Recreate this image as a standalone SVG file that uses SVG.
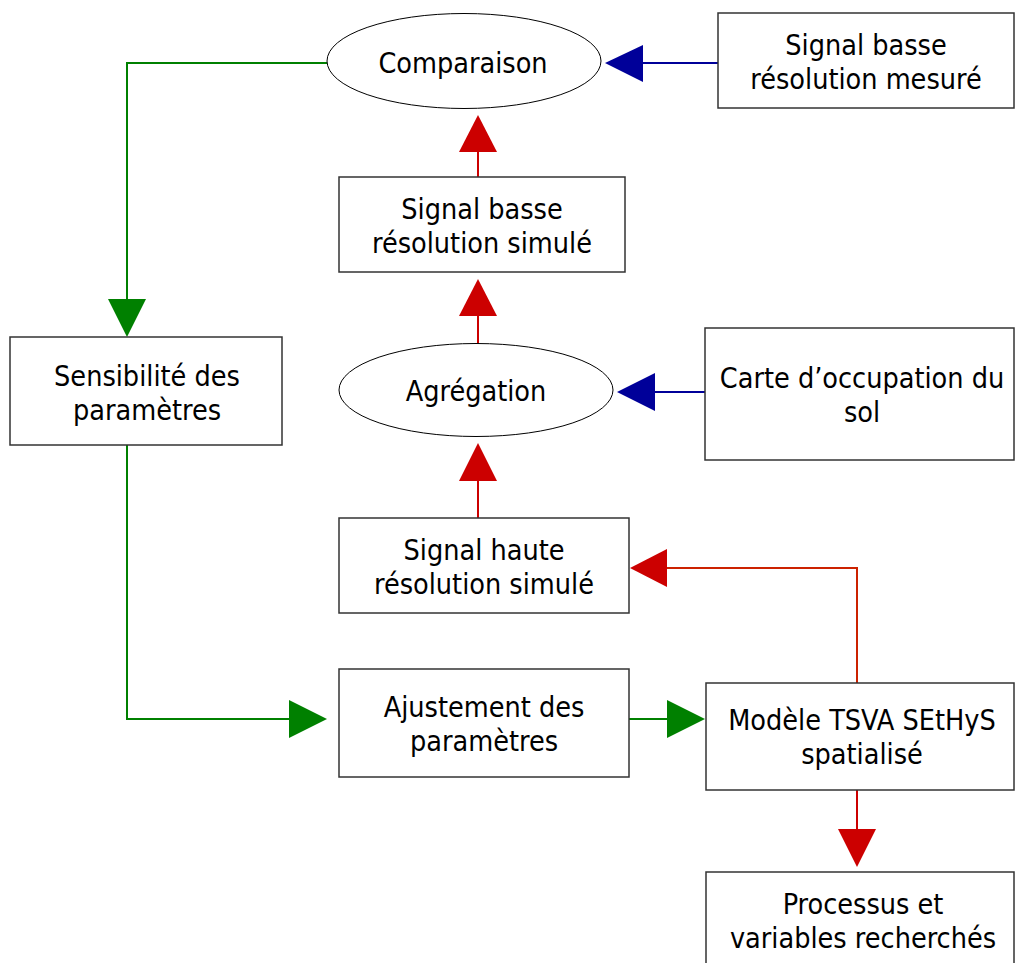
<svg xmlns="http://www.w3.org/2000/svg" width="1015" height="963" viewBox="0 0 1015 963">
<style>
.box{fill:#fff;stroke:#333;stroke-width:1.5}
.ell{fill:#fff;stroke:#000;stroke-width:1}
text{font-family:"DejaVu Sans Condensed","DejaVu Sans",sans-serif;font-size:28.5px;fill:#000;text-anchor:middle}
.g{stroke:#008000;stroke-width:2;fill:none}
.r{stroke:#cc0000;stroke-width:2;fill:none}
.o{stroke:#cc2200;stroke-width:2;fill:none}
.b{stroke:#000099;stroke-width:2;fill:none}
.gf{fill:#008000}
.rf{fill:#cc0000}
.bf{fill:#000099}
</style>
<rect width="1015" height="963" fill="#fff"/>
<g id="connectors">
<polyline class="b" points="718,63 643,63"/>
<polygon class="bf" points="605,63 643,45 643,82"/>
<polyline class="b" points="705,392 655,392"/>
<polygon class="bf" points="617,392 655,373 655,411"/>
<polyline class="g" points="327,63 127,63 127,300"/>
<polygon class="gf" points="127,337 108,299 146,299"/>
<polyline class="g" points="127,445 127,719 290,719"/>
<polygon class="gf" points="327,719 289,700 289,738"/>
<polyline class="g" points="629,719 668,719"/>
<polygon class="gf" points="705,719 667,700 667,738"/>
<polyline class="r" points="478,177 478,152"/>
<polygon class="rf" points="478,115 459,152 497,152"/>
<polyline class="r" points="478,344 478,316"/>
<polygon class="rf" points="478,279 459,316 497,316"/>
<polyline class="r" points="478,518 478,481"/>
<polygon class="rf" points="478,443 459,481 497,481"/>
<polyline class="o" points="857,683 857,568 667,568"/>
<polygon class="rf" points="630,568 667,549 667,587"/>
<polyline class="r" points="857,790 857,830"/>
<polygon class="rf" points="857,867 838,829 876,829"/>
</g>
<g id="comparaison"><ellipse class="ell" cx="464" cy="61" rx="137" ry="47.5"/><text x="463" y="73">Comparaison</text></g>
<g id="mesure"><rect class="box" x="718" y="13" width="296" height="95"/><text x="866" y="55">Signal basse</text><text x="866" y="89">résolution mesuré</text></g>
<g id="basse-simule"><rect class="box" x="339" y="177" width="286" height="95"/><text x="482" y="219">Signal basse</text><text x="482" y="253">résolution simulé</text></g>
<g id="agregation"><ellipse class="ell" cx="476" cy="390" rx="137" ry="46.5"/><text x="476" y="401">Agrégation</text></g>
<g id="carte"><rect class="box" x="705" y="328" width="309" height="132"/><text x="862" y="388">Carte d’occupation du</text><text x="862" y="422">sol</text></g>
<g id="sensibilite"><rect class="box" x="10" y="337" width="272" height="108"/><text x="147" y="386">Sensibilité des</text><text x="147" y="420">paramètres</text></g>
<g id="haute-simule"><rect class="box" x="339" y="518" width="290" height="95"/><text x="484" y="560">Signal haute</text><text x="484" y="594">résolution simulé</text></g>
<g id="ajustement"><rect class="box" x="339" y="669" width="290" height="108"/><text x="484" y="717">Ajustement des</text><text x="484" y="751">paramètres</text></g>
<g id="modele"><rect class="box" x="706" y="683" width="308" height="107"/><text x="862" y="730">Modèle TSVA SEtHyS</text><text x="862" y="764">spatialisé</text></g>
<g id="processus"><rect class="box" x="706" y="872" width="308" height="100"/><text x="863" y="914">Processus et</text><text x="863" y="948">variables recherchés</text></g>
</svg>
